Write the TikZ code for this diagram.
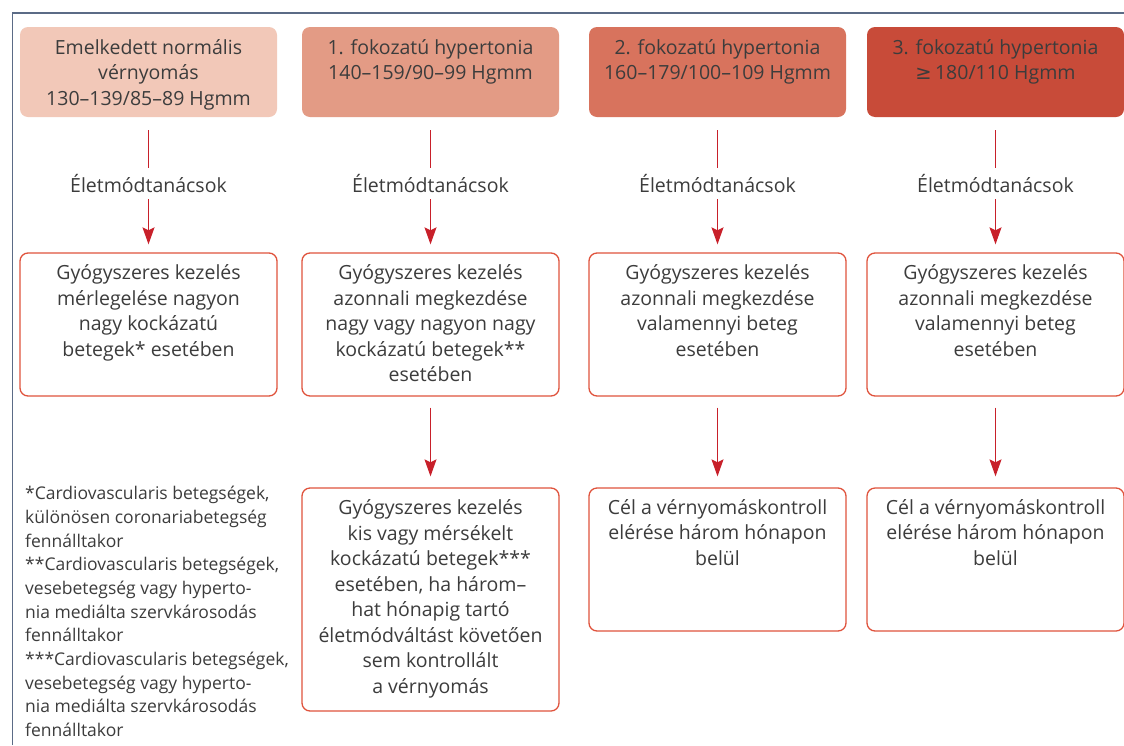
\documentclass[tikz,border=0pt]{standalone}
\usepackage{fontspec}
\setmainfont{Open Sans}
\newfontfamily\symf{DejaVu Sans}
\usetikzlibrary{arrows.meta}
\definecolor{topa}{HTML}{F2C8B8}
\definecolor{topb}{HTML}{E39B85}
\definecolor{topc}{HTML}{D8735D}
\definecolor{topd}{HTML}{C84B39}
\definecolor{boxred}{HTML}{E0533D}
\definecolor{arrred}{HTML}{C8202A}
\definecolor{txtgray}{HTML}{3C3C3C}
\definecolor{framec}{HTML}{5B6B86}
\tikzset{
  topbox/.style={rounded corners=8pt, minimum width=257pt, minimum height=90pt, inner sep=0pt, draw=none},
  rbox/.style={draw=boxred, line width=1.3pt, rounded corners=8pt, fill=white, minimum width=257pt, inner sep=0pt},
  txt/.style={align=center, font=\fontsize{19.5}{25.5}\selectfont, text=txtgray, inner sep=0pt, anchor=north},
  lifetxt/.style={font=\fontsize{19.5}{25.5}\selectfont, text=txtgray, inner sep=0pt, minimum height=31pt},
  conn/.style={draw=arrred, line width=1.2pt},
  arr/.style={draw=arrred, line width=1.2pt, -{Stealth[length=17pt,width=12pt,inset=3pt]}},
}
\begin{document}
\begin{tikzpicture}[x=1pt,y=-1pt]
\useasboundingbox (0,0) rectangle (1124,745);
\fill[white] (0,0) rectangle (1124,745);
\draw[framec, line width=1.3pt] (12.5,745) -- (12.5,13) -- (1124,13);

% top boxes
\node[topbox, fill=topa] (t1) at (148.5,72) {};
\node[topbox, fill=topb] (t2) at (430.5,72) {};
\node[topbox, fill=topc] (t3) at (717.5,72) {};
\node[topbox, fill=topd] (t4) at (995.5,72) {};
\node[txt] (tt1) at ([yshift=-12.5pt]t1.north) {Emelkedett normális\\vérnyomás\\130–139/85–89 Hgmm};
\node[txt] (tt2) at ([yshift=-12.5pt]t2.north) {1. fokozatú hypertonia\\140–159/90–99 Hgmm};
\node[txt] (tt3) at ([yshift=-12.5pt]t3.north) {2. fokozatú hypertonia\\160–179/100–109 Hgmm};
\node[txt] (tt4) at ([yshift=-12.5pt]t4.north) {3. fokozatú hypertonia\\{\symf ≥}\,180/110 Hgmm};

% lifestyle labels
\node[lifetxt] (l1) at (148.5,183.5) {Életmódtanácsok};
\node[lifetxt] (l2) at (430.5,183.5) {Életmódtanácsok};
\node[lifetxt] (l3) at (717.5,183.5) {Életmódtanácsok};
\node[lifetxt] (l4) at (995.5,183.5) {Életmódtanácsok};

% row 2 boxes
\node[rbox, minimum height=143pt] (r1) at (148.5,324.5) {};
\node[rbox, minimum height=143pt] (r2) at (430.5,324.5) {};
\node[rbox, minimum height=143pt] (r3) at (717.5,324.5) {};
\node[rbox, minimum height=143pt] (r4) at (995.5,324.5) {};
\node[txt] (rt1) at ([yshift=-12.5pt]r1.north) {Gyógyszeres kezelés\\mérlegelése nagyon\\nagy kockázatú\\betegek* esetében};
\node[txt] (rt2) at ([yshift=-12.5pt]r2.north) {Gyógyszeres kezelés\\azonnali megkezdése\\nagy vagy nagyon nagy\\kockázatú betegek**\\esetében};
\node[txt] (rt3) at ([yshift=-12.5pt]r3.north) {Gyógyszeres kezelés\\azonnali megkezdése\\valamennyi beteg\\esetében};
\node[txt] (rt4) at ([yshift=-12.5pt]r4.north) {Gyógyszeres kezelés\\azonnali megkezdése\\valamennyi beteg\\esetében};

% row 3 boxes
\node[rbox, minimum height=223pt] (s2) at (430.5,599.5) {};
\node[rbox, minimum height=143pt] (s3) at (717.5,559.5) {};
\node[rbox, minimum height=143pt] (s4) at (995.5,559.5) {};
\node[txt] (st2) at ([yshift=-12pt]s2.north) {Gyógyszeres kezelés\\kis vagy mérsékelt\\kockázatú betegek***\\esetében, ha három–\\hat hónapig tartó\\életmódváltást követően\\sem kontrollált\\a vérnyomás};
\node[txt] (st3) at ([yshift=-12pt]s3.north) {Cél a vérnyomáskontroll\\elérése három hónapon\\belül};
\node[txt] (st4) at ([yshift=-12pt]s4.north) {Cél a vérnyomáskontroll\\elérése három hónapon\\belül};

% footnotes
\node[align=left, anchor=north west, inner sep=0pt, text=txtgray, font=\fontsize{17.5}{23.7}\selectfont] (fn) at (25,486) {*Cardiovascularis betegségek,\\különösen coronariabetegség\\fennálltakor\\**Cardiovascularis betegségek,\\vesebetegség vagy hyperto-\\nia mediálta szervkárosodás\\fennálltakor\\***Cardiovascularis betegségek,\\vesebetegség vagy hyperto-\\nia mediálta szervkárosodás\\fennálltakor};

% connectors
\foreach \i in {1,2,3,4}{
  \draw[conn, shorten <=13pt] (t\i.south) -- (l\i.north);
  \draw[arr, shorten >=8pt] (l\i.south) -- (r\i.north);
}
\draw[arr, shorten <=11pt, shorten >=11pt] (r2.south) -- (s2.north);
\draw[arr, shorten <=11pt, shorten >=11pt] (r3.south) -- (s3.north);
\draw[arr, shorten <=11pt, shorten >=11pt] (r4.south) -- (s4.north);
\end{tikzpicture}
\end{document}
